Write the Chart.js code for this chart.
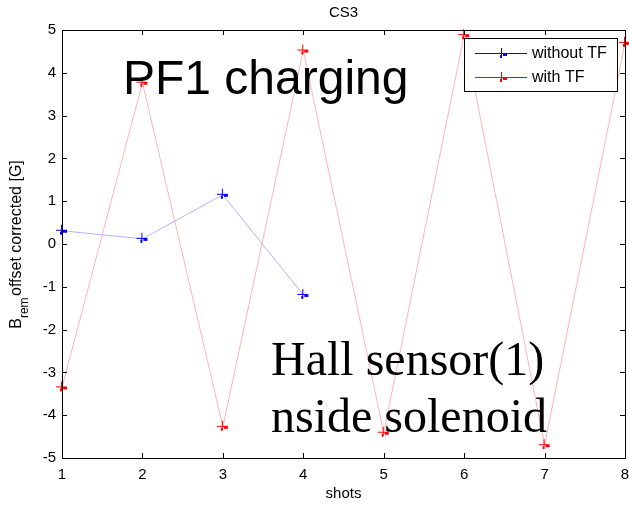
<!DOCTYPE html>
<html>
<head>
<meta charset="utf-8">
<script src="https://cdn.jsdelivr.net/npm/chart.js@4"></script>
<style>
  body { margin: 0; background: #fff; }
  #wrap { width: 629px; height: 506px; }
</style>
</head>
<body>
<div id="wrap"><canvas id="myChart" width="629" height="506"></canvas></div>
<script>
const shots = [1, 2, 3, 4, 5, 6, 7, 8];
const withoutTF = [0.31, 0.12, 1.15, -1.19];
const withTF = [-3.35, 3.77, -4.27, 4.52, -4.41, 4.88, -4.70, 4.70];
const yTicks = [-5, -4, -3, -2, -1, 0, 1, 2, 3, 4, 5];

const FONT = '"Liberation Sans", Arial';

// matlab-ish "+" marker with the little artefact under it
function makeMarker(color) {
    const c = document.createElement('canvas');
    c.width = 16;
    c.height = 16;
    const g = c.getContext('2d');
    g.fillStyle = color;
    g.fillRect(7, 2, 1, 9);   // vertical
    g.fillRect(2, 7, 11, 1);  // horizontal
    g.fillRect(9, 8, 4, 2);
    g.fillRect(6, 9, 2, 3);
    return c;
}

const boxPlugin = {
    id: 'box',
    afterDraw(chart) {
        const ctx = chart.ctx;
        const a = chart.chartArea;
        const xs = chart.scales.x;
        const ys = chart.scales.y;
        ctx.save();
        ctx.strokeStyle = '#000';
        ctx.lineWidth = 1;
        ctx.strokeRect(Math.round(a.left) + 0.5, Math.round(a.top) + 0.5,
            Math.round(a.right - a.left), Math.round(a.bottom - a.top));
        ctx.beginPath();
        shots.forEach(v => {
            const px = Math.round(xs.getPixelForValue(v)) + 0.5;
            ctx.moveTo(px, a.bottom); ctx.lineTo(px, a.bottom - 5);
            ctx.moveTo(px, a.top); ctx.lineTo(px, a.top + 5);
        });
        yTicks.forEach(v => {
            const py = Math.round(ys.getPixelForValue(v)) + 0.5;
            ctx.moveTo(a.left, py); ctx.lineTo(a.left + 5, py);
            ctx.moveTo(a.right, py); ctx.lineTo(a.right - 5, py);
        });
        ctx.stroke();

        // title and axis labels
        ctx.fillStyle = '#000';
        ctx.font = '15px ' + FONT;
        ctx.textAlign = 'center';
        ctx.textBaseline = 'middle';
        ctx.fillText('CS3', (a.left + a.right) / 2, 13);
        ctx.fillText('shots', (a.left + a.right) / 2, 494);

        ctx.save();
        ctx.translate(20, 243);
        ctx.rotate(-Math.PI / 2);
        ctx.textAlign = 'left';
        const p1 = 'B', p2 = 'rem', p3 = ' offset corrected [G]';
        ctx.font = '16px ' + FONT;
        const w1 = ctx.measureText(p1).width;
        const w3 = ctx.measureText(p3).width;
        ctx.font = '12px ' + FONT;
        const w2 = ctx.measureText(p2).width;
        let x0 = -(w1 + w2 + w3) / 2;
        ctx.font = '16px ' + FONT;
        ctx.fillText(p1, x0, -3);
        ctx.font = '12px ' + FONT;
        ctx.fillText(p2, x0 + w1, 5);
        ctx.font = '16px ' + FONT;
        ctx.fillText(p3, x0 + w1 + w2 - 3, -3);
        ctx.restore();

        // legend
        const lx = 464, ly = 38, lw = 153, lh = 53;
        ctx.fillStyle = '#fff';
        ctx.fillRect(lx, ly, lw, lh);
        ctx.strokeStyle = '#000';
        ctx.strokeRect(lx + 0.5, ly + 0.5, lw, lh);
        chart.data.datasets.forEach((ds, i) => {
            const yy = ly + 15 + i * 24;
            ctx.strokeStyle = ds.legendColor;
            ctx.beginPath();
            ctx.moveTo(475, yy + 0.5);
            ctx.lineTo(527, yy + 0.5);
            ctx.stroke();
            ctx.drawImage(ds.pointStyle, 501 - 7, yy - 7);
            ctx.fillStyle = '#000';
            ctx.font = '16px ' + FONT;
            ctx.textAlign = 'left';
            ctx.fillText(ds.label, 532, yy + 1);
        });

        // annotations
        ctx.textAlign = 'left';
        ctx.textBaseline = 'alphabetic';
        ctx.font = '48px ' + FONT;
        ctx.fillText('PF1 charging', 123, 94);
        ctx.font = '48px "Liberation Serif", "Times New Roman"';
        ctx.fillText('Hall sensor(1)', 271, 375);
        ctx.fillText('nside solenoid', 271, 432);
        ctx.restore();
    }
};

const data = {
    labels: shots,
    datasets: [{
        label: 'without TF',
        data: withoutTF.map((v, i) => ({x: shots[i], y: v})),
        borderColor: '#b4b4ff',
        legendColor: '#0000ff',
        borderWidth: 1,
        pointStyle: makeMarker('#0000ff'),
        pointRadius: 7,
        clip: false,
        tension: 0
    }, {
        label: 'with TF',
        data: withTF.map((v, i) => ({x: shots[i], y: v})),
        borderColor: '#ffb4b4',
        legendColor: '#ff0000',
        borderWidth: 1,
        pointStyle: makeMarker('#ff0000'),
        pointRadius: 7,
        clip: false,
        tension: 0
    }]
};

const config = {
    type: 'line',
    data: data,
    plugins: [boxPlugin],
    options: {
        responsive: false,
        animation: false,
        layout: {
            autoPadding: false,
            padding: { top: 30, right: 4, left: 0, bottom: 0 }
        },
        plugins: {
            legend: { display: false },
            title: { display: false },
            tooltip: { enabled: false }
        },
        scales: {
            x: {
                type: 'linear',
                min: 1,
                max: 8,
                afterFit: s => {
                    s.height = 48;
                    s.paddingLeft = 0;
                    s.paddingRight = 0;
                },
                grid: { display: false, drawTicks: false, tickLength: 0 },
                border: { display: false },
                ticks: {
                    stepSize: 1,
                    color: '#000',
                    padding: 8,
                    maxRotation: 0,
                    font: { family: FONT, size: 15 }
                }
            },
            y: {
                min: -5,
                max: 5,
                afterFit: s => {
                    s.width = 62;
                    s.paddingTop = 0;
                    s.paddingBottom = 0;
                },
                grid: { display: false, drawTicks: false, tickLength: 0 },
                border: { display: false },
                ticks: {
                    stepSize: 1,
                    color: '#000',
                    padding: 6,
                    font: { family: FONT, size: 15 }
                }
            }
        }
    }
};

const myChart = new Chart(document.getElementById('myChart'), config);
</script>
</body>
</html>
